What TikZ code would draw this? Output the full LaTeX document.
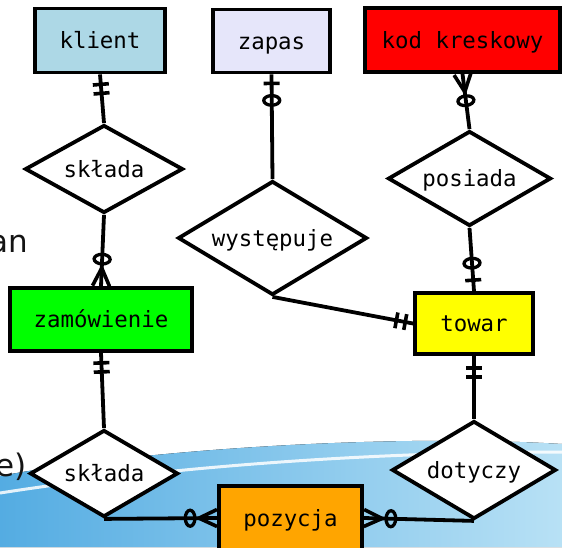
\documentclass[tikz,border=0pt]{standalone}
\usepackage{fontspec}
\setmainfont{DejaVu Sans}
\setmonofont{DejaVu Sans Mono}
\usetikzlibrary{shapes.geometric,decorations.markings}
\definecolor{klientc}{HTML}{ADD8E6}
\definecolor{zapasc}{HTML}{E6E6FA}
\definecolor{kodc}{HTML}{FF0000}
\definecolor{zamc}{HTML}{00FF00}
\definecolor{towarc}{HTML}{FFFF00}
\definecolor{pozc}{HTML}{FFA500}
\definecolor{wavel}{RGB}{84,172,226}
\definecolor{waver}{RGB}{184,225,245}
\definecolor{slidetext}{RGB}{20,20,20}
\tikzset{
  ent/.style={draw, line width=3.8pt, rectangle, inner sep=0pt,
    text height=19pt, text depth=3pt,
    font=\ttfamily\fontsize{22.4}{26}\selectfont},
  rel/.style={draw, line width=3.8pt, diamond, fill=white, aspect=2, inner sep=0pt,
    text height=19pt, text depth=3pt,
    font=\ttfamily\fontsize{22.4}{26}\selectfont},
  conn/.style={line width=3.8pt},
  slide/.style={font=\fontsize{31}{34}\selectfont, text=slidetext, inner sep=0pt},
  onlyone/.style={postaction={decorate,decoration={markings,
    mark=at position #1 with {\draw[line width=3.6pt] (0,-8pt)--(0,8pt);},
    mark=at position #1+9pt with {\draw[line width=3.6pt] (0,-8pt)--(0,8pt);}}}},
  zeroone/.style n args={2}{postaction={decorate,decoration={markings,
    mark=at position #1 with {\draw[line width=3.6pt] (0,-8pt)--(0,8pt);},
    mark=at position #2 with {\draw[line width=3.3pt] (0,0) ellipse [x radius=4.8pt, y radius=8pt];}}}},
  zeromany/.style={postaction={decorate,decoration={markings,
    mark=at position 0.1pt with {\draw[line width=3.6pt, line join=miter] (0,8.5pt)--(18pt,0)--(0,-8.5pt);},
    mark=at position 27pt with {\draw[line width=3.3pt] (0,0) ellipse [x radius=4.8pt, y radius=8pt];}}}},
}
\begin{document}
\begin{tikzpicture}[x=1pt,y=-1pt]
\useasboundingbox (0,0) rectangle (562,547);
% slide background
\fill[left color=wavel, right color=waver]
  (0,476) .. controls (150,448) and (400,434) .. (562,444) -- (562,547) -- (0,547) -- cycle;
\draw[white, line width=3pt, opacity=0.85]
  (0,493) .. controls (160,468) and (360,452) .. (562,452);
\node[slide, anchor=base east] (txan) at (28,252) {an};
\node[slide, anchor=base east] (txe) at (27,476) {e)};
% entities
\node[ent, fill=klientc, minimum width=130pt, minimum height=64pt] (klient) at (100,40.5) {klient};
\node[ent, fill=zapasc, minimum width=117pt, minimum height=63pt] (zapas) at (271.5,41) {zapas};
\node[ent, fill=kodc, minimum width=195pt, minimum height=64pt] (kod) at (462.5,40) {kod kreskowy};
\node[ent, fill=zamc, minimum width=182pt, minimum height=63pt] (zam) at (101,319.5) {zamówienie};
\node[ent, fill=towarc, minimum width=118pt, minimum height=61pt] (towar) at (474,323.5) {towar};
\node[ent, fill=pozc, minimum width=143pt, minimum height=64pt] (poz) at (290.5,518) {pozycja};
% relationships
\node[rel, minimum width=158pt, minimum height=88pt] (sk1) at (104,169) {składa};
\node[rel, minimum width=189pt, minimum height=114pt] (wys) at (272.5,238) {występuje};
\node[rel, minimum width=163pt, minimum height=95pt] (pos) at (469.5,178.5) {posiada};
\node[rel, minimum width=148pt, minimum height=87pt] (sk2) at (104,473.5) {składa};
\node[rel, minimum width=164pt, minimum height=98pt] (dot) at (474,470) {dotyczy};
% connectors
\draw[conn, onlyone=10pt] (klient.south) -- (sk1.north);
\draw[conn, zeromany] (zam.north) -- (sk1.south);
\draw[conn, zeroone={9pt}{26pt}] (zapas.south) -- (wys.north);
\draw[conn, onlyone=8pt] (towar.west) -- (wys.south);
\draw[conn, zeromany] (kod.south) -- (pos.north);
\draw[conn, zeroone={11pt}{28pt}] (towar.north) -- (pos.south);
\draw[conn, onlyone=12pt] (towar.south) -- (dot.north);
\draw[conn, onlyone=10pt] (zam.south) -- (sk2.north);
\draw[conn, zeromany] (poz.west) -- (sk2.south);
\draw[conn, zeromany] (poz.east) -- (dot.south);
\end{tikzpicture}
\end{document}
